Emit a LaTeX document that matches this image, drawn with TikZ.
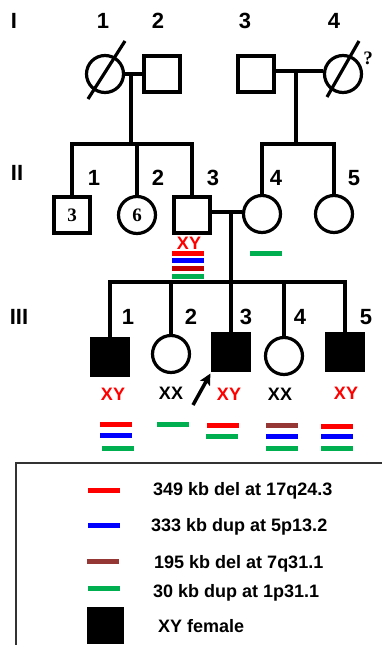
\documentclass[tikz,border=0pt]{standalone}
\usepackage{fontspec}
\setmainfont{Liberation Sans}
\newfontfamily\serifb{Liberation Serif}
\usetikzlibrary{arrows.meta}
\definecolor{cred}{RGB}{255,0,0}
\definecolor{cblue}{RGB}{0,0,255}
\definecolor{cgreen}{RGB}{0,176,80}
\definecolor{cbrown}{RGB}{149,55,53}
\definecolor{cdred}{RGB}{192,0,0}
\begin{document}
\begin{tikzpicture}[x=1pt,y=-1pt,
  ln/.style={line width=3.2pt},
  male/.style={draw,line width=3.2pt,rectangle,minimum size=36pt,inner sep=0pt},
  female/.style={draw,line width=3.2pt,circle,minimum size=37pt,inner sep=0pt},
  aff/.style={fill=black},
  lab/.style={font=\bfseries\fontsize{22}{22}\selectfont},
  kt/.style={font=\bfseries\fontsize{18}{18}\selectfont},
  lgt/.style={font=\bfseries\fontsize{18}{18}\selectfont,anchor=west,inner sep=0pt},
  inn/.style={font=\serifb\bfseries\fontsize{19}{19}\selectfont},
  bar/.style={line width=5pt}
]
\useasboundingbox (0,0) rectangle (382,645);

% generation labels
\node[lab] (gI) at (14,21) {I};
\node[lab] (gII) at (17,173) {II};
\node[lab] (gIII) at (19,317) {III};

% Generation I
\node[female] (i1) at (105,74) {};
\node[male] (i2) at (162,74) {};
\node[male] (i3) at (256,74) {};
\node[female] (i4) at (343,74) {};
\draw[ln] (88,99) -- (125,41);
\draw[ln] (327,97) -- (359,41);
\node[inn] (q) at (368,58) {?};
\node[lab] (n11) at (103,21) {1};
\node[lab] (n12) at (158,21) {2};
\node[lab] (n13) at (245,21) {3};
\node[lab] (n14) at (334,21) {4};

\draw[ln] (i1) -- (i2);
\draw[ln] (i3.east|-0,71) -- (i4.west|-0,71);
\coordinate (m1) at (131,74);
\coordinate (s1) at (131,144);
\coordinate (m2) at (296,71);
\coordinate (s2) at (296,144);
\draw[ln] (m1) -- (s1);
\draw[ln] (m2) -- (s2);

% Generation II
\node[male] (ii1) at (72,215) {};
\node[inn] (t1) at (ii1) {3};
\node[female] (ii2) at (137,215) {};
\node[inn] (t2) at (ii2) {6};
\node[male] (ii3) at (192,215) {};
\node[female] (ii4) at (262,214) {};
\node[female] (ii5) at (334,214) {};
\node[lab] (n21) at (94,178) {1};
\node[lab] (n22) at (158,178) {2};
\node[lab] (n23) at (213,178) {3};
\node[lab] (n24) at (276,178) {4};
\node[lab] (n25) at (354,178) {5};

\draw[ln] (ii1.north) |- (s1) -| (ii3.north);
\draw[ln] (ii2.north|-s1) -- (ii2.north);
\draw[ln] (ii4.north) |- (s2) -| (ii5.north);
\draw[ln] (ii3.east|-0,212) -- (ii4.west|-0,212);
\coordinate (m3) at (231,212);
\coordinate (s3) at (231,282);
\draw[ln] (m3) -- (s3);

\node[kt,text=cred] (k23) at (189,243) {XY};
\draw[bar,cred] (172,253) -- (204,253);
\draw[bar,cblue] (172,260.5) -- (204,260.5);
\draw[bar,cdred] (172,268) -- (204,268);
\draw[bar,cgreen] (172,276) -- (204,276);
\draw[bar,cgreen] (250,253) -- (282,253);

% Generation III
\node[male,aff] (iii1) at (110,357) {};
\node[female] (iii2) at (171,354) {};
\node[male,aff] (iii3) at (231,352) {};
\node[female] (iii4) at (284,356) {};
\node[male,aff] (iii5) at (345,352) {};
\node[lab] (n31) at (128,317) {1};
\node[lab] (n32) at (191,317) {2};
\node[lab] (n33) at (246,317) {3};
\node[lab] (n34) at (300,317) {4};
\node[lab] (n35) at (366,317) {5};

\draw[ln] (iii1.north) |- (s3) -| (iii5.north);
\draw[ln] (s3) -- (iii3.north);
\draw[ln] (iii2.north|-s3) -- (iii2.north);
\draw[ln] (iii4.north|-s3) -- (iii4.north);

\node[kt,text=cred] (k31) at (113,394) {XY};
\node[kt] (k32) at (171,393) {XX};
\node[kt,text=cred] (k33) at (229,394) {XY};
\node[kt] (k34) at (280,394) {XX};
\node[kt,text=cred] (k35) at (346,393) {XY};

\coordinate (arrt) at (193,405);
\draw[line width=3.5pt,-{Stealth[length=11pt,width=11pt,inset=2pt]}] (arrt) -- ([shift={(-1,2)}]iii3.south west);

% karyotype bars gen III
\draw[bar,cred] (100,424) -- (132,424);
\draw[bar,cblue] (100,435) -- (132,435);
\draw[bar,cgreen] (102,448) -- (134,448);
\draw[bar,cgreen] (157,424) -- (189,424);
\draw[bar,cred] (207,425) -- (239,425);
\draw[bar,cgreen] (206,436) -- (238,436);
\draw[bar,cbrown] (266,425) -- (298,425);
\draw[bar,cblue] (266,436) -- (298,436);
\draw[bar,cgreen] (266,448) -- (298,448);
\draw[bar,cred] (321,426) -- (353,426);
\draw[bar,cblue] (321,436) -- (353,436);
\draw[bar,cgreen] (321,448) -- (353,448);

% Legend
\draw[line width=1.5pt,black!80] (16,652) -- (16,463) -- (390,463);
\draw[bar,cred] (88,490) -- (120,490);
\node[lgt] (l1) at (153,491) {349 kb del at 17q24.3};
\draw[bar,cblue] (88,525) -- (120,525);
\node[lgt] (l2) at (151,527) {333 kb dup at 5p13.2};
\draw[bar,cbrown] (87,561) -- (119,561);
\node[lgt] (l3) at (154,564) {195 kb del at 7q31.1};
\draw[bar,cgreen] (88,588) -- (120,588);
\node[lgt] (l4) at (153,593) {30 kb dup at 1p31.1};
\fill[black] (87,607) rectangle (124,644);
\node[lgt] (l5) at (158,626) {XY female};
\end{tikzpicture}
\end{document}
